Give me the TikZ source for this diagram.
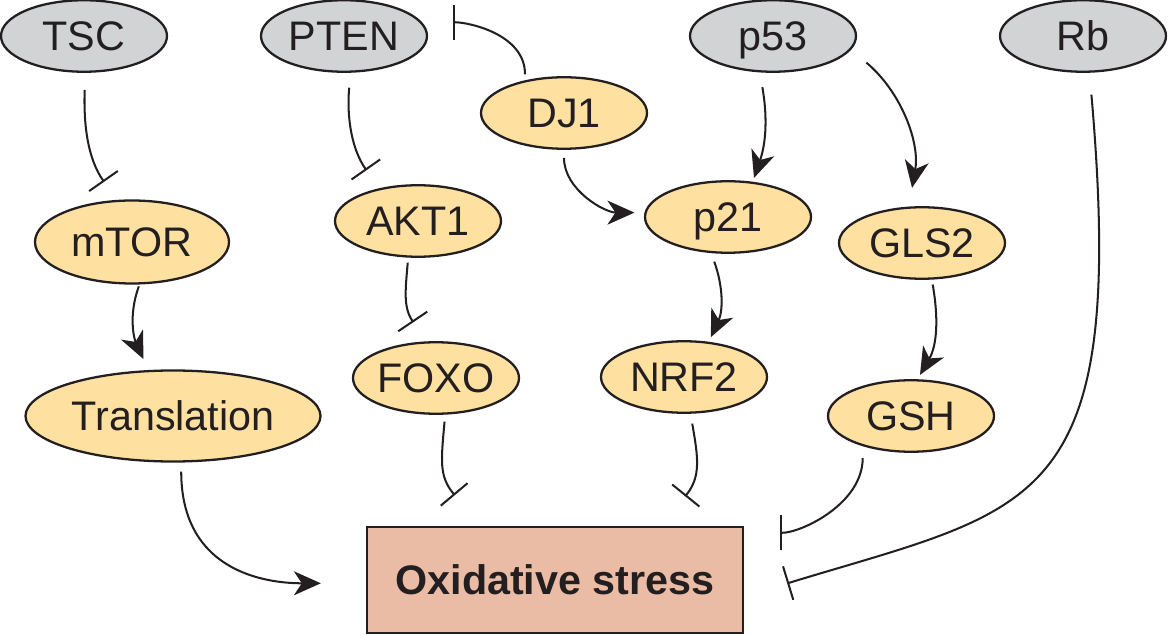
\documentclass[tikz,border=0pt]{standalone}
\usepackage{fontspec}
\setmainfont{Liberation Sans}
\usetikzlibrary{arrows.meta, shapes.geometric}
\definecolor{NodeGray}{HTML}{D1D3D4}
\definecolor{NodeYellow}{HTML}{FEE1A1}
\definecolor{StressRed}{HTML}{EBBCA5}
\definecolor{LineDark}{HTML}{231F20}

\begin{document}
\begin{tikzpicture}[x=0.2mm, y=0.2mm, >={Stealth[length=5.4mm, width=4.8mm, inset=1.6mm]},
  font=\fontsize{23.5}{28}\selectfont, color=LineDark, line width=1.15pt,
  g/.style={ellipse, draw, line width=1.3pt, fill=NodeGray, inner sep=0pt, minimum width=33.2mm, minimum height=14.3mm, text height=16.8pt, text depth=0pt},
  o/.style={g, fill=NodeYellow},
  inh/.style={-{Bar[width=7mm]}}]
  \useasboundingbox (0,0) rectangle (1168,-635);
  \node[g] (TSC)  at (84,-36)   {TSC};
  \node[g] (PTEN) at (344,-36)  {PTEN};
  \node[g] (p53)  at (773,-36)  {p53};
  \node[g] (Rb)   at (1083,-36) {Rb};
  \node[o] (DJ1)  at (564,-113) {DJ1};
  \node[o, minimum width=38.8mm, minimum height=16.6mm] (mTOR) at (132,-242) {mTOR};
  \node[o] (AKT1) at (418,-221) {AKT1};
  \node[o] (p21)  at (728,-217) {p21};
  \node[o] (GLS2) at (922,-243) {GLS2};
  \node[o] (FOXO) at (436,-378) {FOXO};
  \node[o] (NRF2) at (684,-377) {NRF2};
  \node[o] (GSH)  at (911,-416) {GSH};
  \node[o, minimum width=59mm, minimum height=18.2mm] (transl) at (173,-416) {Translation};
  \node[rectangle, draw, line width=1.3pt, fill=StressRed, minimum width=75.2mm, minimum height=21.2mm,
    font=\fontsize{23.5}{28}\selectfont\bfseries, text height=16.8pt, text depth=0pt] (stress) at (555,-580) {Oxidative stress};
  \draw[inh, shorten <=3.4mm, shorten >=4.4mm] (TSC.-88) to[out=-92, in=125] (mTOR.110);
  \draw[inh, shorten <=3mm, shorten >=4.4mm] (PTEN.-80) to[out=-95, in=125] (AKT1.140);
  \draw[inh, shorten <=1.2mm, shorten >=6.2mm] (DJ1.140) to[out=90, in=0] (PTEN.10);
  \draw[->, shorten <=1.6mm, shorten >=2mm] (DJ1.south) to[out=-90, in=180] (p21.177);
  \draw[->, shorten <=3mm, shorten >=0.8mm] (p53.-110) to[out=-80, in=71] (p21.55);
  \draw[->, shorten <=4mm, shorten >=3.8mm] (p53.-10) to[out=-40, in=80] (GLS2.110);
  \draw[->, shorten <=1mm, shorten >=1mm] (GLS2.-75) to[out=-80, in=60] (GSH.80);
  \draw[->, shorten <=1.8mm, shorten >=1mm] (p21.-115) to[out=-70, in=65] (NRF2.55);
  \draw[inh, shorten <=2mm, shorten >=7.6mm] (NRF2.-80) to[out=-80, in=51, in distance=12.6mm] (stress.27);
  \draw[inh, shorten <=1.4mm, shorten >=8mm] (FOXO.-76) to[out=-95, in=130, in distance=13mm] (stress.144);
  \draw[inh, shorten <=1mm, shorten >=4.6mm] (AKT1.-105) to[out=-95, in=124, in distance=8.2mm] (FOXO.105);
  \draw[->, shorten <=0.4mm, shorten >=2.4mm] (mTOR.-80) to[out=-110, in=115] (transl.118);
  \draw[->, shorten <=1.8mm, shorten >=9mm] (transl.-80) to[out=-90, in=180, out distance=23mm, in distance=18mm] (stress.181);
  \draw[inh, shorten <=2.4mm, shorten >=7.2mm] (GSH.-148) to[out=-90, in=0] (stress.14);
  \draw[inh, shorten <=4.4mm, shorten >=9mm] (Rb.-80) to[out=-85, in=17, out distance=88.4mm, in distance=61mm] (stress.-5);
\end{tikzpicture}
\end{document}
